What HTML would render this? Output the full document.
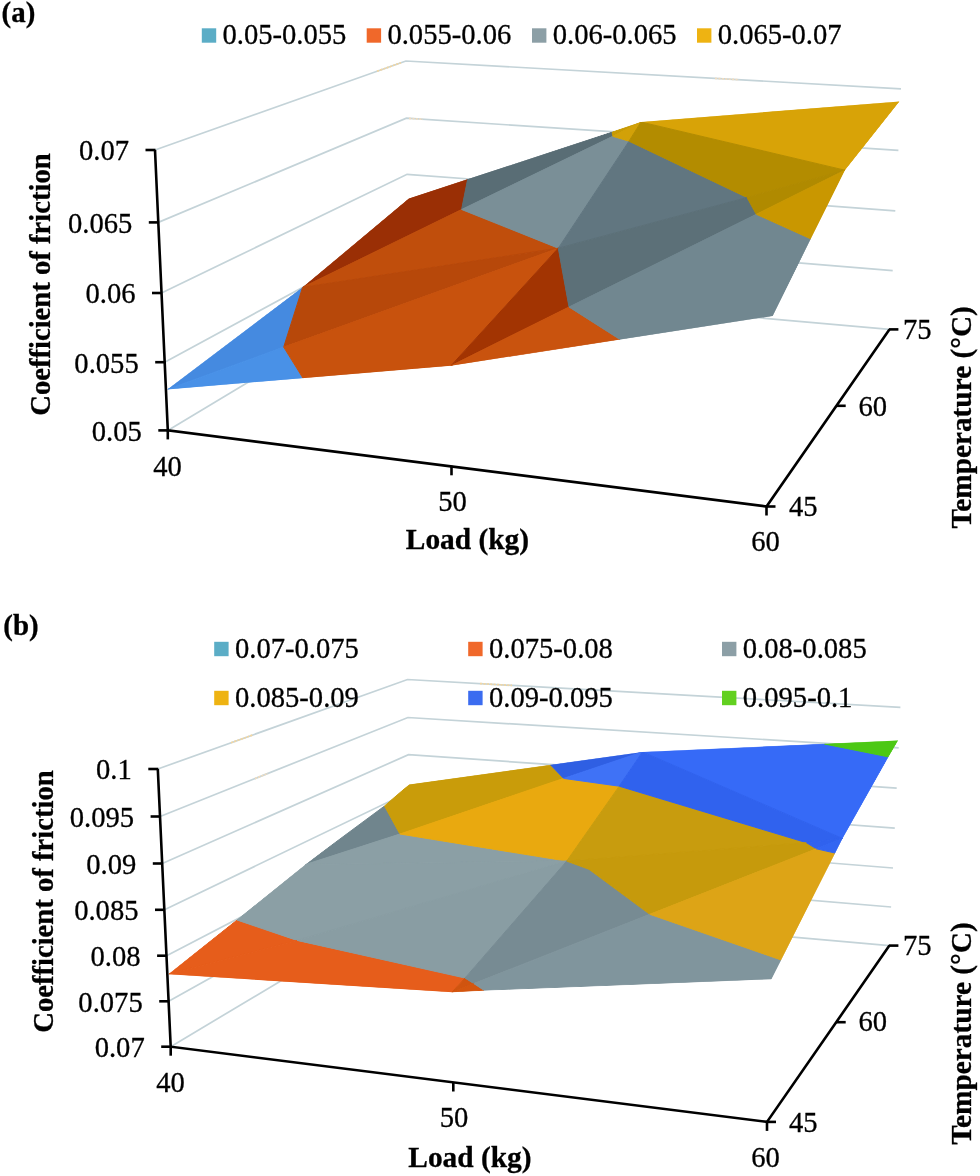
<!DOCTYPE html>
<html lang="en">
<head>
<meta charset="utf-8">
<title>Coefficient of friction surface plots</title>
<style>
html,body{margin:0;padding:0;background:#fff;}
body{width:980px;height:1176px;overflow:hidden;}
svg{display:block;}
svg text{font-family:"Liberation Serif","Times New Roman",serif;fill:#000;stroke:#000;stroke-width:0.3px;}
</style>
</head>
<body>
<svg width="980" height="1176" viewBox="0 0 980 1176">
<rect x="0" y="0" width="980" height="1176" fill="#ffffff"/>
<polyline points="155.0,150.0 405.9,61.0 901.0,88.8" fill="none" stroke="#c4d3d8" stroke-width="1.7" stroke-linejoin="miter"/>
<polyline points="158.3,222.4 406.4,118.2 898.4,150.4" fill="none" stroke="#c4d3d8" stroke-width="1.7" stroke-linejoin="miter"/>
<polyline points="161.5,293.0 407.1,174.3 895.3,210.8" fill="none" stroke="#c4d3d8" stroke-width="1.7" stroke-linejoin="miter"/>
<polyline points="164.7,362.2 407.6,230.5 892.7,270.6" fill="none" stroke="#c4d3d8" stroke-width="1.7" stroke-linejoin="miter"/>
<polyline points="167.8,430.4 408.2,286.5 889.4,329.4" fill="none" stroke="#c4d3d8" stroke-width="1.7" stroke-linejoin="miter"/>
<line x1="377.0" y1="71.3" x2="401.0" y2="62.7" stroke="#f2d6a2" stroke-width="1.7" stroke-dasharray="2.2 1.2"/>
<line x1="409.0" y1="118.4" x2="423.0" y2="119.3" stroke="#f0dcc0" stroke-width="1.7" stroke-dasharray="2.2 1.2"/>
<line x1="715.0" y1="78.4" x2="739.0" y2="79.7" stroke="#f0dcc0" stroke-width="1.7" stroke-dasharray="2.2 1.2"/>
<clipPath id="clipA"><polygon points="167.3,389.4 451.0,365.7 772.7,316.0 844.9,170.2 899.4,101.4 641.0,122.0 408.8,198.6 302.6,287.3"/></clipPath>
<g clip-path="url(#clipA)">
<polygon points="302.6,287.3 408.8,198.6 467.7,179.1 461.6,209.5" fill="#9a2f05" stroke="#9a2f05" stroke-width="1" stroke-linejoin="round"/>
<polygon points="467.7,179.1 612.2,132.0 612.8,136.3 461.6,209.5" fill="#596d75" stroke="#596d75" stroke-width="1" stroke-linejoin="round"/>
<polygon points="612.2,132.0 641.0,122.0 612.8,136.3" fill="#c79a05" stroke="#c79a05" stroke-width="1" stroke-linejoin="round"/>
<polygon points="302.6,287.3 461.6,209.5 558.3,248.2" fill="#c04e0c" stroke="#c04e0c" stroke-width="1" stroke-linejoin="round"/>
<polygon points="461.6,209.5 612.8,136.3 629.0,141.2 558.3,248.2" fill="#7a8f97" stroke="#7a8f97" stroke-width="1" stroke-linejoin="round"/>
<polygon points="612.8,136.3 641.0,122.0 629.0,141.2" fill="#d2a108" stroke="#d2a108" stroke-width="1" stroke-linejoin="round"/>
<polygon points="641.0,122.0 899.4,101.4 844.9,170.2" fill="#d8a307" stroke="#d8a307" stroke-width="1" stroke-linejoin="round"/>
<polygon points="558.3,248.2 629.0,141.2 747.0,197.5" fill="#617680" stroke="#617680" stroke-width="1" stroke-linejoin="round"/>
<polygon points="629.0,141.2 641.0,122.0 844.9,170.2 747.0,197.5" fill="#b38c00" stroke="#b38c00" stroke-width="1" stroke-linejoin="round"/>
<polygon points="167.3,389.4 302.6,287.3 283.7,347.1" fill="#458ae0" stroke="#458ae0" stroke-width="1" stroke-linejoin="round"/>
<polygon points="302.6,287.3 558.3,248.2 283.7,347.1" fill="#b7480a" stroke="#b7480a" stroke-width="1" stroke-linejoin="round"/>
<polygon points="167.3,389.4 283.7,347.1 303.0,378.2" fill="#4991e7" stroke="#4991e7" stroke-width="1" stroke-linejoin="round"/>
<polygon points="283.7,347.1 558.3,248.2 451.0,365.7 303.0,378.2" fill="#c8520d" stroke="#c8520d" stroke-width="1" stroke-linejoin="round"/>
<polygon points="451.0,365.7 558.3,248.2 569.0,307.0" fill="#a23402" stroke="#a23402" stroke-width="1" stroke-linejoin="round"/>
<polygon points="558.3,248.2 747.0,197.5 756.3,214.3 569.0,307.0" fill="#5c7078" stroke="#5c7078" stroke-width="1" stroke-linejoin="round"/>
<polygon points="747.0,197.5 844.9,170.2 756.3,214.3" fill="#b08a00" stroke="#b08a00" stroke-width="1" stroke-linejoin="round"/>
<polygon points="451.0,365.7 569.0,307.0 620.0,339.5" fill="#c9530e" stroke="#c9530e" stroke-width="1" stroke-linejoin="round"/>
<polygon points="569.0,307.0 756.3,214.3 810.6,238.8 772.7,316.0 620.0,339.5" fill="#718790" stroke="#718790" stroke-width="1" stroke-linejoin="round"/>
<polygon points="756.3,214.3 844.9,170.2 810.6,238.8" fill="#c99700" stroke="#c99700" stroke-width="1" stroke-linejoin="round"/>
</g>
<polyline points="155.0,150.0 167.8,430.4 766.5,506.5 889.4,329.4" fill="none" stroke="#000" stroke-width="2.6" stroke-linejoin="miter"/>
<line x1="145.5" y1="150.0" x2="155.5" y2="150.0" stroke="#000" stroke-width="2.6" stroke-linecap="butt"/>
<line x1="148.8" y1="222.4" x2="158.8" y2="222.4" stroke="#000" stroke-width="2.6" stroke-linecap="butt"/>
<line x1="152.0" y1="293.0" x2="162.0" y2="293.0" stroke="#000" stroke-width="2.6" stroke-linecap="butt"/>
<line x1="155.2" y1="362.2" x2="165.2" y2="362.2" stroke="#000" stroke-width="2.6" stroke-linecap="butt"/>
<line x1="158.3" y1="430.4" x2="168.3" y2="430.4" stroke="#000" stroke-width="2.6" stroke-linecap="butt"/>
<line x1="167.8" y1="429.9" x2="167.8" y2="439.4" stroke="#000" stroke-width="2.6" stroke-linecap="butt"/>
<line x1="451.5" y1="465.8" x2="451.5" y2="475.3" stroke="#000" stroke-width="2.6" stroke-linecap="butt"/>
<line x1="766.5" y1="506.0" x2="766.5" y2="515.5" stroke="#000" stroke-width="2.6" stroke-linecap="butt"/>
<line x1="766.0" y1="506.5" x2="775.5" y2="506.5" stroke="#000" stroke-width="2.6" stroke-linecap="butt"/>
<line x1="836.2" y1="405.8" x2="845.7" y2="405.8" stroke="#000" stroke-width="2.6" stroke-linecap="butt"/>
<line x1="888.9" y1="329.4" x2="898.4" y2="329.4" stroke="#000" stroke-width="2.6" stroke-linecap="butt"/>
<rect x="201.8" y="28.3" width="14.4" height="14.4" fill="#5badc6"/>
<text x="222.5" y="44.0" font-size="28.6" text-anchor="start">0.05-0.055</text>
<rect x="366.7" y="28.3" width="14.4" height="14.4" fill="#f0682a"/>
<text x="387.4" y="44.0" font-size="28.6" text-anchor="start">0.055-0.06</text>
<rect x="532.0" y="28.3" width="14.4" height="14.4" fill="#8c9fa6"/>
<text x="552.7" y="44.0" font-size="28.6" text-anchor="start">0.06-0.065</text>
<rect x="697.0" y="28.3" width="14.4" height="14.4" fill="#eeb312"/>
<text x="717.7" y="44.0" font-size="28.6" text-anchor="start">0.065-0.07</text>
<text x="1.6" y="22.2" font-size="28.9" font-weight="bold" text-anchor="start">(a)</text>
<text x="129.0" y="160.3" font-size="28.6" text-anchor="end">0.07</text>
<text x="132.3" y="232.7" font-size="28.6" text-anchor="end">0.065</text>
<text x="135.5" y="303.3" font-size="28.6" text-anchor="end">0.06</text>
<text x="138.7" y="372.5" font-size="28.6" text-anchor="end">0.055</text>
<text x="141.8" y="440.7" font-size="28.6" text-anchor="end">0.05</text>
<text x="167.5" y="475.5" font-size="28.6" text-anchor="middle">40</text>
<text x="452.5" y="511.4" font-size="28.6" text-anchor="middle">50</text>
<text x="765.5" y="551.0" font-size="28.6" text-anchor="middle">60</text>
<text x="789.0" y="516.3" font-size="28.6" text-anchor="start">45</text>
<text x="858.5" y="415.6" font-size="28.6" text-anchor="start">60</text>
<text x="903.0" y="339.2" font-size="28.6" text-anchor="start">75</text>
<text x="405.8" y="549.4" font-size="29.4" font-weight="bold" text-anchor="start">Load (kg)</text>
<text x="50.0" y="415.8" font-size="28.65" font-weight="bold" text-anchor="start" transform="rotate(-90 50.0 415.8)">Coefficient of friction</text>
<text x="970.8" y="528.6" font-size="29.3" font-weight="bold" text-anchor="start" transform="rotate(-90 970.8 528.6)">Temperature (°C)</text>
<polyline points="157.8,769.0 407.5,679.5 900.4,707.3" fill="none" stroke="#c4d3d8" stroke-width="1.7" stroke-linejoin="miter"/>
<polyline points="160.1,816.5 407.9,717.5 898.7,747.8" fill="none" stroke="#c4d3d8" stroke-width="1.7" stroke-linejoin="miter"/>
<polyline points="162.3,863.5 408.5,754.7 896.7,788.2" fill="none" stroke="#c4d3d8" stroke-width="1.7" stroke-linejoin="miter"/>
<polyline points="164.5,909.8 409.0,792.0 894.8,828.1" fill="none" stroke="#c4d3d8" stroke-width="1.7" stroke-linejoin="miter"/>
<polyline points="166.6,955.7 409.5,829.3 893.0,868.0" fill="none" stroke="#c4d3d8" stroke-width="1.7" stroke-linejoin="miter"/>
<polyline points="168.7,1001.3 410.0,866.5 891.1,907.0" fill="none" stroke="#c4d3d8" stroke-width="1.7" stroke-linejoin="miter"/>
<polyline points="170.7,1046.7 410.5,903.3 889.4,945.6" fill="none" stroke="#c4d3d8" stroke-width="1.7" stroke-linejoin="miter"/>
<line x1="231.0" y1="742.8" x2="253.0" y2="734.9" stroke="#f2d6a2" stroke-width="1.7" stroke-dasharray="2.2 1.2"/>
<line x1="255.0" y1="778.6" x2="268.0" y2="773.4" stroke="#f0dcc0" stroke-width="1.7" stroke-dasharray="2.2 1.2"/>
<line x1="480.0" y1="683.6" x2="512.0" y2="685.4" stroke="#f2d6a2" stroke-width="1.7" stroke-dasharray="2.2 1.2"/>
<clipPath id="clipB"><polygon points="168.4,974.2 452.0,992.2 771.4,979.2 842.5,838.5 898.0,740.4 642.5,751.9 409.2,784.6 305.5,864.5"/></clipPath>
<g clip-path="url(#clipB)">
<polygon points="305.5,864.5 384.5,806.0 399.9,834.0" fill="#70858d" stroke="#70858d" stroke-width="1" stroke-linejoin="round"/>
<polygon points="384.5,806.0 409.2,784.6 550.6,764.9 563.6,778.4 399.9,834.0" fill="#c99c0a" stroke="#c99c0a" stroke-width="1" stroke-linejoin="round"/>
<polygon points="550.6,764.9 642.5,751.9 563.6,778.4" fill="#2f5fe3" stroke="#2f5fe3" stroke-width="1" stroke-linejoin="round"/>
<polygon points="305.5,864.5 399.9,834.0 566.7,861.1" fill="#8b9fa5" stroke="#8b9fa5" stroke-width="1" stroke-linejoin="round"/>
<polygon points="399.9,834.0 563.6,778.4 619.2,786.2 566.7,861.1" fill="#e9a90f" stroke="#e9a90f" stroke-width="1" stroke-linejoin="round"/>
<polygon points="563.6,778.4 642.5,751.9 619.2,786.2" fill="#3f72f6" stroke="#3f72f6" stroke-width="1" stroke-linejoin="round"/>
<polygon points="642.5,751.9 824.5,744.0 888.2,756.8 842.5,838.5" fill="#366af7" stroke="#366af7" stroke-width="1" stroke-linejoin="round"/>
<polygon points="824.5,744.0 898.0,740.4 888.2,756.8" fill="#4cc814" stroke="#4cc814" stroke-width="1" stroke-linejoin="round"/>
<polygon points="566.7,861.1 619.2,786.2 806.5,842.7" fill="#c89c0e" stroke="#c89c0e" stroke-width="1" stroke-linejoin="round"/>
<polygon points="619.2,786.2 642.5,751.9 842.5,838.5 806.5,842.7" fill="#3062ee" stroke="#3062ee" stroke-width="1" stroke-linejoin="round"/>
<polygon points="168.4,974.2 237.0,920.0 297.0,940.4" fill="#e65d1b" stroke="#e65d1b" stroke-width="1" stroke-linejoin="round"/>
<polygon points="237.0,920.0 305.5,864.5 566.7,861.1 297.0,940.4" fill="#8b9fa5" stroke="#8b9fa5" stroke-width="1" stroke-linejoin="round"/>
<polygon points="168.4,974.2 297.0,940.4 465.0,978.0 452.0,992.2" fill="#e65d1b" stroke="#e65d1b" stroke-width="1" stroke-linejoin="round"/>
<polygon points="297.0,940.4 566.7,861.1 465.0,978.0" fill="#899da3" stroke="#899da3" stroke-width="1" stroke-linejoin="round"/>
<polygon points="452.0,992.2 465.0,978.0 473.8,983.6" fill="#d0540f" stroke="#d0540f" stroke-width="1" stroke-linejoin="round"/>
<polygon points="465.0,978.0 566.7,861.1 589.0,869.3 649.8,914.3 473.8,983.6" fill="#778b93" stroke="#778b93" stroke-width="1" stroke-linejoin="round"/>
<polygon points="566.7,861.1 806.5,842.7 816.3,848.8 649.8,914.3 589.0,869.3" fill="#c69a0c" stroke="#c69a0c" stroke-width="1" stroke-linejoin="round"/>
<polygon points="806.5,842.7 842.5,838.5 816.3,848.8" fill="#3062ee" stroke="#3062ee" stroke-width="1" stroke-linejoin="round"/>
<polygon points="452.0,992.2 473.8,983.6 483.9,990.2" fill="#d4560f" stroke="#d4560f" stroke-width="1" stroke-linejoin="round"/>
<polygon points="473.8,983.6 649.8,914.3 781.2,960.0 771.4,979.2 483.9,990.2" fill="#80959d" stroke="#80959d" stroke-width="1" stroke-linejoin="round"/>
<polygon points="649.8,914.3 816.3,848.8 835.3,853.1 781.2,960.0" fill="#dda416" stroke="#dda416" stroke-width="1" stroke-linejoin="round"/>
<polygon points="816.3,848.8 842.5,838.5 835.3,853.1" fill="#3366f2" stroke="#3366f2" stroke-width="1" stroke-linejoin="round"/>
</g>
<polyline points="157.8,769.0 170.7,1046.7 767.0,1121.9 889.4,945.6" fill="none" stroke="#000" stroke-width="2.6" stroke-linejoin="miter"/>
<line x1="148.3" y1="769.0" x2="158.3" y2="769.0" stroke="#000" stroke-width="2.6" stroke-linecap="butt"/>
<line x1="150.6" y1="816.5" x2="160.6" y2="816.5" stroke="#000" stroke-width="2.6" stroke-linecap="butt"/>
<line x1="152.8" y1="863.5" x2="162.8" y2="863.5" stroke="#000" stroke-width="2.6" stroke-linecap="butt"/>
<line x1="155.0" y1="909.8" x2="165.0" y2="909.8" stroke="#000" stroke-width="2.6" stroke-linecap="butt"/>
<line x1="157.1" y1="955.7" x2="167.1" y2="955.7" stroke="#000" stroke-width="2.6" stroke-linecap="butt"/>
<line x1="159.2" y1="1001.3" x2="169.2" y2="1001.3" stroke="#000" stroke-width="2.6" stroke-linecap="butt"/>
<line x1="161.2" y1="1046.7" x2="171.2" y2="1046.7" stroke="#000" stroke-width="2.6" stroke-linecap="butt"/>
<line x1="170.7" y1="1046.2" x2="170.7" y2="1055.7" stroke="#000" stroke-width="2.6" stroke-linecap="butt"/>
<line x1="453.3" y1="1082.0" x2="453.3" y2="1091.5" stroke="#000" stroke-width="2.6" stroke-linecap="butt"/>
<line x1="767.0" y1="1121.4" x2="767.0" y2="1130.9" stroke="#000" stroke-width="2.6" stroke-linecap="butt"/>
<line x1="766.5" y1="1121.9" x2="776.0" y2="1121.9" stroke="#000" stroke-width="2.6" stroke-linecap="butt"/>
<line x1="836.2" y1="1022.2" x2="845.7" y2="1022.2" stroke="#000" stroke-width="2.6" stroke-linecap="butt"/>
<line x1="888.9" y1="945.6" x2="898.4" y2="945.6" stroke="#000" stroke-width="2.6" stroke-linecap="butt"/>
<rect x="214.2" y="641.8" width="14.4" height="14.4" fill="#5badc6"/>
<text x="235.0" y="658.0" font-size="28.6" text-anchor="start">0.07-0.075</text>
<rect x="468.2" y="641.8" width="14.4" height="14.4" fill="#f0682a"/>
<text x="489.0" y="658.0" font-size="28.6" text-anchor="start">0.075-0.08</text>
<rect x="722.0" y="641.8" width="14.4" height="14.4" fill="#8c9fa6"/>
<text x="742.8" y="658.0" font-size="28.6" text-anchor="start">0.08-0.085</text>
<rect x="214.2" y="690.8" width="14.4" height="14.4" fill="#eeb312"/>
<text x="235.0" y="707.0" font-size="28.6" text-anchor="start">0.085-0.09</text>
<rect x="468.2" y="690.8" width="14.4" height="14.4" fill="#3b6cf0"/>
<text x="489.0" y="707.0" font-size="28.6" text-anchor="start">0.09-0.095</text>
<rect x="722.0" y="690.8" width="14.4" height="14.4" fill="#62d020"/>
<text x="742.8" y="707.0" font-size="28.6" text-anchor="start">0.095-0.1</text>
<text x="3.3" y="635.4" font-size="28.9" font-weight="bold" text-anchor="start">(b)</text>
<text x="131.8" y="779.2" font-size="28.6" text-anchor="end">0.1</text>
<text x="134.1" y="826.7" font-size="28.6" text-anchor="end">0.095</text>
<text x="136.3" y="873.7" font-size="28.6" text-anchor="end">0.09</text>
<text x="138.5" y="920.0" font-size="28.6" text-anchor="end">0.085</text>
<text x="140.6" y="965.9" font-size="28.6" text-anchor="end">0.08</text>
<text x="142.7" y="1011.5" font-size="28.6" text-anchor="end">0.075</text>
<text x="144.7" y="1056.9" font-size="28.6" text-anchor="end">0.07</text>
<text x="170.5" y="1091.5" font-size="28.6" text-anchor="middle">40</text>
<text x="454.0" y="1127.0" font-size="28.6" text-anchor="middle">50</text>
<text x="765.5" y="1166.7" font-size="28.6" text-anchor="middle">60</text>
<text x="789.0" y="1132.2" font-size="28.6" text-anchor="start">45</text>
<text x="858.5" y="1031.3" font-size="28.6" text-anchor="start">60</text>
<text x="903.0" y="955.4" font-size="28.6" text-anchor="start">75</text>
<text x="408.3" y="1167.4" font-size="29.4" font-weight="bold" text-anchor="start">Load (kg)</text>
<text x="53.3" y="1032.8" font-size="28.65" font-weight="bold" text-anchor="start" transform="rotate(-90 53.3 1032.8)">Coefficient of friction</text>
<text x="970.8" y="1144.8" font-size="29.3" font-weight="bold" text-anchor="start" transform="rotate(-90 970.8 1144.8)">Temperature (°C)</text>
</svg>
</body>
</html>
